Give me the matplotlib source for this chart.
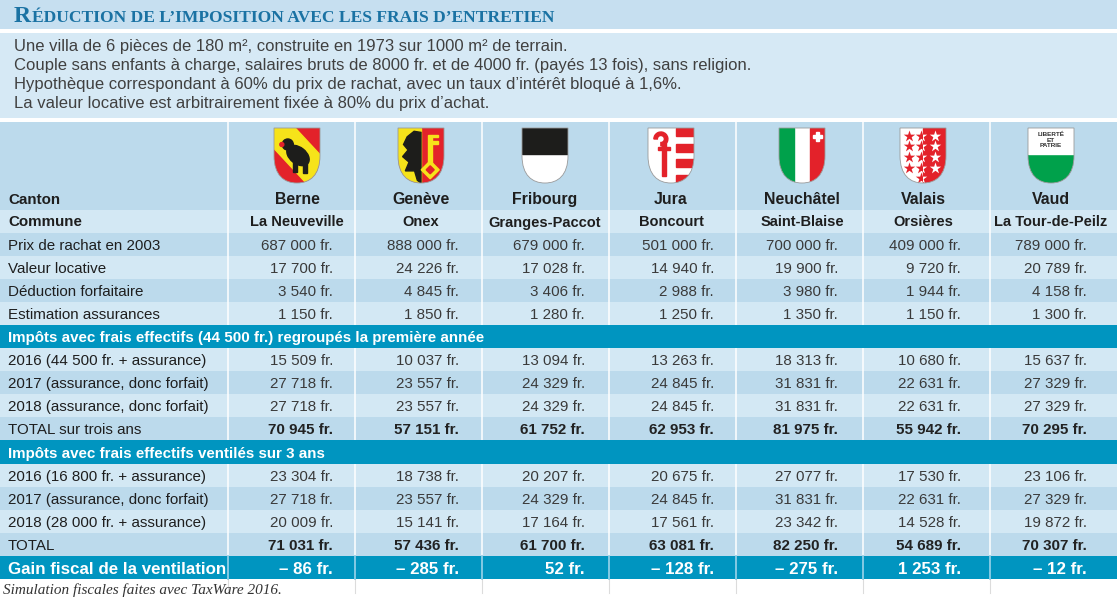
import matplotlib
matplotlib.use('Agg')
import matplotlib.pyplot as plt
from matplotlib.path import Path
from matplotlib.patches import PathPatch, Rectangle, Polygon, Ellipse, Circle, Wedge
import numpy as np

# --- data -------------------------------------------------------------
cantons = ['Berne', 'Genève', 'Fribourg', 'Jura', 'Neuchâtel', 'Valais', 'Vaud']
communes = ['La Neuveville', 'Onex', 'Granges-Paccot', 'Boncourt',
            'Saint-Blaise', 'Orsières', 'La Tour-de-Peilz']

prix_rachat = [687000, 888000, 679000, 501000, 700000, 409000, 789000]
valeur_locative = [17700, 24226, 17028, 14940, 19900, 9720, 20789]
deduction_forfait = [3540, 4845, 3406, 2988, 3980, 1944, 4158]
estimation_assur = [1150, 1850, 1280, 1250, 1350, 1150, 1300]

groupe_2016 = [15509, 10037, 13094, 13263, 18313, 10680, 15637]
groupe_2017 = [27718, 23557, 24329, 24845, 31831, 22631, 27329]
groupe_2018 = [27718, 23557, 24329, 24845, 31831, 22631, 27329]
groupe_total = [70945, 57151, 61752, 62953, 81975, 55942, 70295]

ventile_2016 = [23304, 18738, 20207, 20675, 27077, 17530, 23106]
ventile_2017 = [27718, 23557, 24329, 24845, 31831, 22631, 27329]
ventile_2018 = [20009, 15141, 17164, 17561, 23342, 14528, 19872]
ventile_total = [71031, 57436, 61700, 63081, 82250, 54689, 70307]

gain_fiscal = [-86, -285, 52, -128, -275, 1253, -12]

title = 'RÉDUCTION DE L’IMPOSITION AVEC LES FRAIS D’ENTRETIEN'
desc_lines = [
    'Une villa de 6 pièces de 180 m², construite en 1973 sur 1000 m² de terrain.',
    'Couple sans enfants à charge, salaires bruts de 8000 fr. et de 4000 fr. (payés 13 fois), sans religion.',
    'Hypothèque correspondant à 60% du prix de rachat, avec un taux d’intérêt bloqué à 1,6%.',
    'La valeur locative est arbitrairement fixée à 80% du prix d’achat.',
]
section1 = 'Impôts avec frais effectifs (44 500 fr.) regroupés la première année'
section2 = 'Impôts avec frais effectifs ventilés sur 3 ans'
footer = 'Simulation fiscales faites avec TaxWare 2016.'

# --- styling ----------------------------------------------------------
DARK = '#bcdaec'
LIGHT = '#d3e8f4'
TEAL = '#0095c0'
TITLE_BG = '#c6dff0'
DESC_BG = '#d6e9f5'
SANS = 'Liberation Sans'
FS = 10.9

W, H = 1117, 600
fig = plt.figure(figsize=(W / 100, H / 100), dpi=100)
ax = fig.add_axes([0, 0, 1, 1])
ax.set_xlim(0, W)
ax.set_ylim(H, 0)
ax.axis('off')


def fmt(v):
    s = f'{abs(v):,}'.replace(',', ' ')
    return ('– ' if v < 0 else '') + s + ' fr.'


# title band
ax.add_patch(Rectangle((0, 0), W, 29, color=TITLE_BG, lw=0))
t = ax.text(14, 22, title[0], fontsize=17, family='Liberation Serif',
            weight='bold', color='#1a72a3', va='baseline')
fig.canvas.draw()
bb = t.get_window_extent(fig.canvas.get_renderer())
ax.text(bb.x1 + 0.5, 22, title[1:], fontsize=12.6, family='Liberation Serif',
        weight='bold', color='#1a72a3', va='baseline')

# description box
ax.add_patch(Rectangle((0, 33), W, 85, color=DESC_BG, lw=0))
for i, line in enumerate(desc_lines):
    ax.text(14, 51 + 19 * i, line, fontsize=12.0, family=SANS,
            color='#404040', va='baseline')

# --- table layout -----------------------------------------------------
label_w = 228
col_w = (W - label_w) / len(cantons)
col_left = [label_w + col_w * i for i in range(len(cantons))]
head_cx = [297, 421, 545, 671, 802, 923, 1051]
val_right = [333, 459, 585, 714, 838, 961, 1087]
top = 122
head_bot = 210
row_h = 23.1
first_row = 232.5
base_off = 17.2

ax.add_patch(Rectangle((0, top), W, head_bot - top, color=DARK, lw=0))
ax.add_patch(Rectangle((0, head_bot), W, first_row - head_bot, color=LIGHT, lw=0))

rows = [
    ('dark', 'Prix de rachat en 2003', prix_rachat),
    ('light', 'Valeur locative', valeur_locative),
    ('dark', 'Déduction forfaitaire', deduction_forfait),
    ('light', 'Estimation assurances', estimation_assur),
    ('section', section1, None),
    ('light', '2016 (44 500 fr. + assurance)', groupe_2016),
    ('dark', '2017 (assurance, donc forfait)', groupe_2017),
    ('light', '2018 (assurance, donc forfait)', groupe_2018),
    ('total', 'TOTAL sur trois ans', groupe_total),
    ('section', section2, None),
    ('light', '2016 (16 800 fr. + assurance)', ventile_2016),
    ('dark', '2017 (assurance, donc forfait)', ventile_2017),
    ('light', '2018 (28 000 fr. + assurance)', ventile_2018),
    ('total', 'TOTAL', ventile_total),
    ('gain', 'Gain fiscal de la ventilation', gain_fiscal),
]
bottom = first_row + row_h * len(rows)

# background of the rows
for i, (kind, label, vals) in enumerate(rows):
    y0 = first_row + row_h * i
    if kind in ('section', 'gain'):
        c = TEAL
    elif kind in ('dark', 'total'):
        c = DARK
    else:
        c = LIGHT
    ax.add_patch(Rectangle((0, y0), W, row_h + 0.3, color=c, lw=0, zorder=1))

# vertical white separators (hidden under section bars)
for x in col_left:
    ax.plot([x, x], [top, bottom], color='white', lw=1.1, zorder=2)
    ax.plot([x, x], [bottom, bottom + 14], color='#dcdcdc', lw=0.8, zorder=2)
for i, (kind, label, vals) in enumerate(rows):
    y0 = first_row + row_h * i
    if kind == 'section':
        ax.add_patch(Rectangle((0, y0), W, row_h + 0.3, color=TEAL, lw=0, zorder=3))
    if kind == 'gain':
        for x in col_left:
            ax.plot([x, x], [y0, y0 + row_h], color='#6cc0de', lw=1.1, zorder=3)

# row texts
for i, (kind, label, vals) in enumerate(rows):
    yb = first_row + row_h * i + base_off
    if kind == 'section':
        ax.text(8, yb, label, fontsize=FS, family=SANS, weight='bold',
                color='white', va='baseline', zorder=4)
        continue
    if kind == 'gain':
        ax.text(8, yb + 0.5, label, fontsize=12.2, family=SANS, weight='bold',
                color='white', va='baseline', zorder=4)
        for xr, v in zip(val_right, vals):
            ax.text(xr, yb + 0.5, fmt(v), fontsize=12.2, family=SANS,
                    weight='bold', color='white', va='baseline', ha='right', zorder=4)
        continue
    ax.text(8, yb, label, fontsize=FS, family=SANS,
            color='#1e1e1e', va='baseline', zorder=4)
    for xr, v in zip(val_right, vals):
        if kind == 'total':
            ax.text(xr, yb, fmt(v), fontsize=FS, family=SANS, weight='bold',
                    color='#222222', va='baseline', ha='right', zorder=4)
        else:
            ax.text(xr, yb, fmt(v), fontsize=FS, family=SANS,
                    color='#3a3a3a', va='baseline', ha='right', zorder=4)

# header texts
ax.text(8, 204, 'Canton', fontsize=FS, family=SANS, weight='bold',
        color='#1e1e1e', va='baseline')
ax.text(8, 226.5, 'Commune', fontsize=FS, family=SANS, weight='bold',
        color='#1e1e1e', va='baseline')
for cx, c, m in zip(head_cx, cantons, communes):
    ax.text(cx, 204, c, fontsize=11.4, family=SANS, weight='bold',
            color='#1e1e1e', va='baseline', ha='center')
    ax.text(cx, 226.5, m, fontsize=FS - 0.4, family=SANS, weight='bold',
            color='#1e1e1e', va='baseline', ha='center')


# --- coats of arms ----------------------------------------------------
def shield(cx, sy, w, h, base):
    l, r = cx - w / 2, cx + w / 2
    verts = [(l, sy), (r, sy), (r, sy + h * 0.5),
             (r, sy + h * 0.86), (cx + w * 0.28, sy + h), (cx, sy + h),
             (cx - w * 0.28, sy + h), (l, sy + h * 0.86), (l, sy + h * 0.5),
             (l, sy)]
    codes = [Path.MOVETO, Path.LINETO, Path.LINETO,
             Path.CURVE4, Path.CURVE4, Path.CURVE4,
             Path.CURVE4, Path.CURVE4, Path.CURVE4, Path.CLOSEPOLY]
    p = PathPatch(Path(verts, codes), facecolor=base, edgecolor='none', zorder=5)
    ax.add_patch(p)
    edge = PathPatch(Path(verts, codes), facecolor='none', edgecolor='#9a9a9a',
                     lw=0.6, zorder=7)
    ax.add_patch(edge)
    return p


def add(art, clip):
    art.set_zorder(6)
    ax.add_patch(art)
    art.set_clip_path(clip)
    return art


RED, YEL, BLK, GRN = '#e3222a', '#f6e31a', '#1d1d1b', '#00a14b'
sw, sh, st = 46, 55, 128

for k, cx in enumerate(head_cx):
    l = cx - sw / 2
    name = cantons[k]
    if name == 'Berne':
        clip = shield(cx, st, sw, sh, RED)
        d = np.array([sw, sh * 0.9]); d = d / np.linalg.norm(d)
        n = np.array([-d[1], d[0]]) * sw * 0.32
        p0 = np.array([l - 10, st - 10 * sh / sw]); p1 = p0 + d * 120
        add(Polygon([p0 + n, p1 + n, p1 - n, p0 - n], color=YEL), clip)
        add(Ellipse((cx + 1, st + sh * 0.5), sw * 0.55, sh * 0.3, angle=38, color=BLK), clip)
        add(Circle((cx - sw * 0.2, st + sh * 0.3), sw * 0.12, color=BLK), clip)
        add(Rectangle((cx - 4, st + sh * 0.55), 4, sh * 0.25, color=BLK), clip)
        add(Rectangle((cx + 6, st + sh * 0.6), 4, sh * 0.22, color=BLK), clip)
        add(Circle((cx - sw * 0.33, st + sh * 0.3), 2, color=RED), clip)
    elif name == 'Genève':
        clip = shield(cx, st, sw, sh, RED)
        add(Rectangle((l, st), sw / 2, sh, color=YEL), clip)
        eagle = [(cx, st + sh * 0.08), (cx - sw * 0.15, st + sh * 0.06),
                 (cx - sw * 0.3, st + sh * 0.16), (cx - sw * 0.38, st + sh * 0.3),
                 (cx - sw * 0.28, st + sh * 0.4), (cx - sw * 0.4, st + sh * 0.52),
                 (cx - sw * 0.26, st + sh * 0.62), (cx - sw * 0.34, st + sh * 0.78),
                 (cx - sw * 0.14, st + sh * 0.78), (cx - sw * 0.08, st + sh * 0.95),
                 (cx, st + sh)]
        add(Polygon(eagle, color=BLK), clip)
        add(Rectangle((cx + sw * 0.16, st + sh * 0.12), sw * 0.08, sh * 0.55, color=YEL), clip)
        add(Rectangle((cx + sw * 0.24, st + sh * 0.12), sw * 0.12, sh * 0.05, color=YEL), clip)
        add(Rectangle((cx + sw * 0.24, st + sh * 0.24), sw * 0.12, sh * 0.05, color=YEL), clip)
        kx, ky = cx + sw * 0.2, st + sh * 0.76
        add(Polygon([(kx, ky - 9), (kx + 9, ky), (kx, ky + 9), (kx - 9, ky)], color=YEL), clip)
        add(Polygon([(kx, ky - 4), (kx + 4, ky), (kx, ky + 4), (kx - 4, ky)], color=RED), clip)
    elif name == 'Fribourg':
        clip = shield(cx, st, sw, sh, 'white')
        add(Rectangle((l, st), sw, sh * 0.48, color=BLK), clip)
    elif name == 'Jura':
        clip = shield(cx, st, sw, sh, 'white')
        sx = cx + sw * 0.1
        for j in range(7):
            if j % 2 == 0:
                add(Rectangle((sx, st + sh * j / 7), sw, sh / 7, color=RED), clip)
        add(Rectangle((cx - sw * 0.2, st + sh * 0.28), sw * 0.09, sh * 0.6, color=RED), clip)
        add(Wedge((cx - sw * 0.22, st + sh * 0.2), 7, 180, 90, width=3.5, color=RED), clip)
        add(Rectangle((cx - sw * 0.28, st + sh * 0.35), sw * 0.25, sh * 0.05, color=RED), clip)
    elif name == 'Neuchâtel':
        clip = shield(cx, st, sw, sh, 'white')
        add(Rectangle((l, st), sw / 3, sh, color=GRN), clip)
        add(Rectangle((l + sw * 2 / 3, st), sw / 3, sh, color=RED), clip)
        ccx, ccy, a = l + sw * 5 / 6, st + sh * 0.15, 4.5
        add(Rectangle((ccx - a, ccy - a / 3), 2 * a, 2 * a / 3, color='white'), clip)
        add(Rectangle((ccx - a / 3, ccy - a), 2 * a / 3, 2 * a, color='white'), clip)
    elif name == 'Valais':
        clip = shield(cx, st, sw, sh, 'white')
        add(Rectangle((cx, st), sw / 2, sh, color=RED), clip)
        sx_rel = [0.19, 0.46, 0.77]
        sy_rel = [0.15, 0.33, 0.53, 0.73]
        pts = [(l + sw * a, st + sh * b) for b in sy_rel for a in sx_rel]
        pts.append((l + sw * 0.46, st + sh * 0.91))
        xs = [p[0] for p in pts]; ys = [p[1] for p in pts]
        left_half = Rectangle((l, st), cx - l, sh, transform=ax.transData)
        right_half = Rectangle((cx, st), sw / 2, sh, transform=ax.transData)
        s1 = ax.scatter(xs, ys, marker='*', s=75, color=RED, lw=0, zorder=6)
        s1.set_clip_path(left_half)
        s2 = ax.scatter(xs, ys, marker='*', s=75, color='white', lw=0, zorder=6)
        s2.set_clip_path(right_half)
    elif name == 'Vaud':
        clip = shield(cx, st, sw, sh, GRN)
        add(Rectangle((l, st), sw, sh * 0.47, color='white'), clip)
        ax.text(cx, st + sh * 0.22, 'LIBERTÉ\nET\nPATRIE', fontsize=4.6,
                family=SANS, weight='bold', color='#333333',
                ha='center', va='center', linespacing=1.1, zorder=8)

# footer
ax.text(3, 594, footer, fontsize=11, family='Liberation Serif', style='italic',
        color='#333333', va='baseline')

fig.savefig('out.png', dpi=100)
